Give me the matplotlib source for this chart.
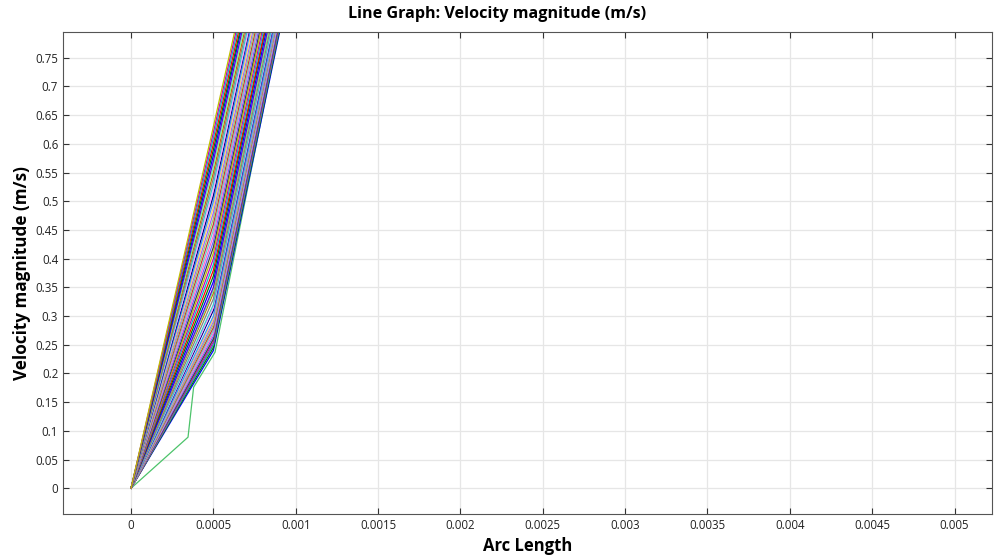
import numpy as np
import matplotlib.pyplot as plt

plt.rcParams['font.family'] = ['Open Sans', 'DejaVu Sans']

# arc length sample points
arc = [0, 0.0005, 0.001]

# velocity at arc = 0.0005 and arc = 0.001 for each line (value at 0 is 0)
v_mid = [0.24, 0.245, 0.25, 0.25, 0.255, 0.26, 0.26, 0.265, 0.27, 0.275,
         0.28, 0.285, 0.29, 0.295, 0.30, 0.31, 0.315, 0.32, 0.33, 0.34,
         0.345, 0.35, 0.36, 0.37, 0.38, 0.39, 0.40, 0.41, 0.42, 0.43,
         0.44, 0.45, 0.46, 0.47, 0.48, 0.49, 0.50, 0.51, 0.52, 0.53,
         0.54, 0.55, 0.56, 0.57, 0.58, 0.59, 0.60, 0.61, 0.62, 0.63]
v_end = [0.93, 0.935, 0.94, 0.94, 0.945, 0.95, 0.95, 0.955, 0.96, 0.965,
         0.97, 0.97, 0.975, 0.98, 0.98, 0.99, 0.995, 1.0, 1.01, 1.02,
         1.02, 1.03, 1.04, 1.05, 1.05, 1.06, 1.07, 1.08, 1.09, 1.10,
         1.11, 1.11, 1.12, 1.13, 1.14, 1.15, 1.16, 1.17, 1.17, 1.18,
         1.19, 1.20, 1.21, 1.22, 1.23, 1.23, 1.24, 1.25, 1.26, 1.27]

# odd line with extra points
odd_x = [0, 0.000346, 0.00038, 0.00051, 0.0009]
odd_y = [0, 0.089, 0.176, 0.237, 0.80]

palette = ['#0000ff', '#008000', '#ff0000', '#00bfbf', '#bf00bf', '#bfbf00',
           '#404040', '#6666ff', '#ff66cc', '#66cccc', '#cc3333', '#99cc66',
           '#9966ff', '#ffcc66', '#3399ff', '#000080', '#ff99ff', '#33cccc',
           '#808080', '#cc6600', '#66ff99', '#6600cc']

xticks = [0, 0.0005, 0.001, 0.0015, 0.002, 0.0025, 0.003, 0.0035, 0.004,
          0.0045, 0.005]
xlabels = ['0', '0.0005', '0.001', '0.0015', '0.002', '0.0025', '0.003',
           '0.0035', '0.004', '0.0045', '0.005']
yticks = [0, 0.05, 0.1, 0.15, 0.2, 0.25, 0.3, 0.35, 0.4, 0.45, 0.5, 0.55,
          0.6, 0.65, 0.7, 0.75]
ylabels = ['0', '0.05', '0.1', '0.15', '0.2', '0.25', '0.3', '0.35', '0.4',
           '0.45', '0.5', '0.55', '0.6', '0.65', '0.7', '0.75']

fig = plt.figure(figsize=(9.94, 5.6), dpi=100)
ax = fig.add_axes([0.0634, 0.082, 0.935, 0.861])

ax.plot(odd_x, odd_y, color='#4cc36a', lw=0.9)
for i in range(len(v_mid)):
    ax.plot(arc, [0, v_mid[i], v_end[i]], color=palette[i % len(palette)], lw=0.9)

ax.set_xlim(-0.000413, 0.00523)
ax.set_ylim(-0.045, 0.795)
ax.set_xticks(xticks)
ax.set_xticklabels(xlabels)
ax.set_yticks(yticks)
ax.set_yticklabels(ylabels)
ax.tick_params(direction='in', top=True, right=True, labelsize=8.3, length=4,
               colors='#333333', labelcolor='#222222')
ax.grid(True, color='#e6e6e6', lw=0.9)
ax.set_axisbelow(True)
for s in ax.spines.values():
    s.set_color('#555555')

fig.text(0.5, 0.975, 'Line Graph: Velocity magnitude (m/s)', fontsize=11.6,
         fontweight='bold', ha='center', va='center')
ax.set_xlabel('Arc Length', fontsize=12, fontweight='bold', labelpad=4)
ax.set_ylabel('Velocity magnitude (m/s)', fontsize=12.3, fontweight='bold', labelpad=3)

fig.savefig('out.png', dpi=100)
